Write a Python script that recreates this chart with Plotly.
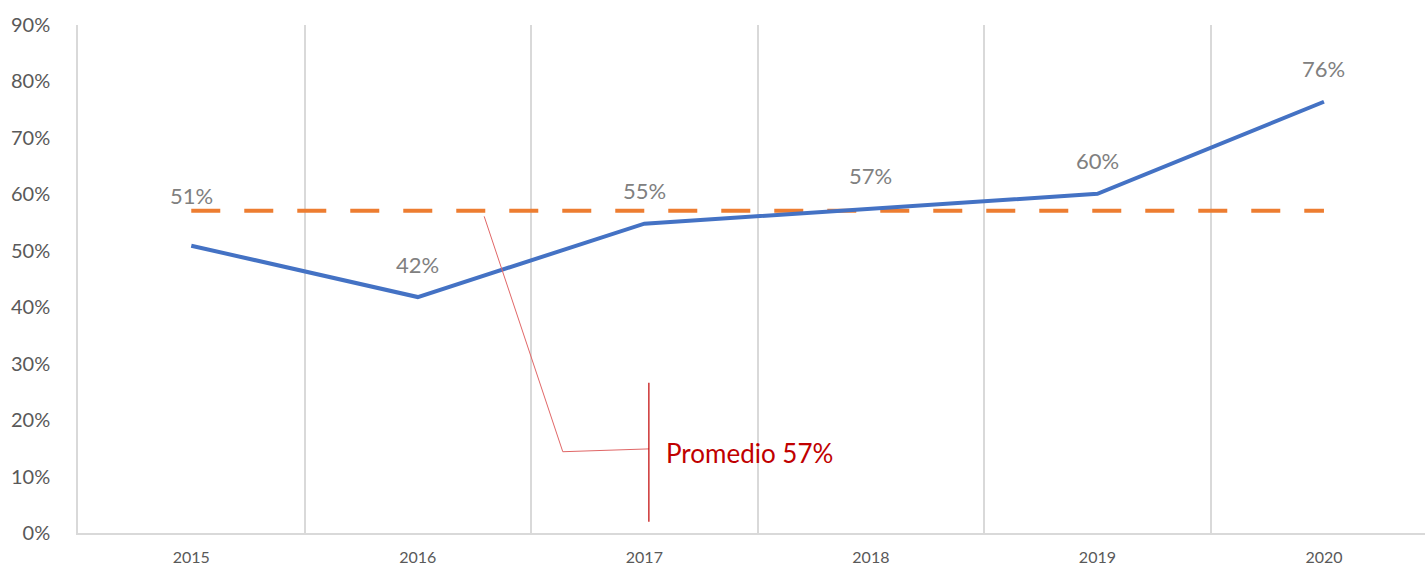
import plotly.graph_objects as go

years = ["2015", "2016", "2017", "2018", "2019", "2020"]
values = [0.509, 0.418, 0.548, 0.575, 0.601, 0.764]
average = 0.571
value_labels = ["51%", "42%", "55%", "57%", "60%", "76%"]
y_ticks = [0, 0.1, 0.2, 0.3, 0.4, 0.5, 0.6, 0.7, 0.8, 0.9]
y_tick_labels = ["0%", "10%", "20%", "30%", "40%", "50%", "60%", "70%", "80%", "90%"]
callout_text = "Promedio 57%"

FONT = "Lato"
GRAY = "#595959"
LABEL_GRAY = "#808080"
RED = "#c00000"

x = list(range(len(years)))

fig = go.Figure()

fig.add_trace(go.Scatter(
    x=x, y=[average] * len(years), mode="lines",
    line=dict(color="#ed7d31", width=4, dash="29px,24px"),
    hoverinfo="skip", showlegend=False,
))
fig.add_trace(go.Scatter(
    x=x, y=values, mode="lines",
    line=dict(color="#4472c4", width=4),
    showlegend=False,
))

# data labels (first one sits higher, above the average line)
label_shift = {0: 50}
for i, (v, t) in enumerate(zip(values, value_labels)):
    fig.add_annotation(
        x=i, y=v, text=t, showarrow=False,
        yshift=label_shift.get(i, 33),
        font=dict(family=FONT, size=22, color=LABEL_GRAY),
    )

# callout for the average
fig.add_shape(type="line", xref="x", yref="y",
              x0=1.293, y0=average - 0.01, x1=1.64, y1=0.144,
              line=dict(color="#e06666", width=1))
fig.add_shape(type="line", xref="x", yref="y",
              x0=1.64, y0=0.144, x1=2.02, y1=0.149,
              line=dict(color="#e06666", width=1))
fig.add_shape(type="line", xref="x", yref="y",
              x0=2.02, y0=0.266, x1=2.02, y1=0.02,
              line=dict(color=RED, width=1.2))
fig.add_annotation(
    x=2.085, y=0.141, text=callout_text, showarrow=False,
    xanchor="left", yanchor="middle",
    font=dict(family=FONT, size=26, color=RED),
)

fig.update_layout(
    width=1427, height=567,
    margin=dict(l=78, r=2, t=25, b=34, autoexpand=False),
    paper_bgcolor="white", plot_bgcolor="white",
    font=dict(family=FONT, color=GRAY),
)
fig.update_xaxes(
    range=[-0.5, 5.446], automargin=False,
    tickvals=x, ticktext=years,
    tickfont=dict(family=FONT, size=16, color=GRAY),
    showgrid=False, zeroline=False,
    showline=True, linecolor="#d9d9d9", linewidth=2,
    ticks="", ticklabelstandoff=9,
    minor=dict(tickvals=[0.5, 1.5, 2.5, 3.5, 4.5], showgrid=True,
               gridcolor="#d9d9d9", gridwidth=1.5, ticks=""),
)
fig.update_yaxes(
    range=[0, 0.9], automargin=False,
    tickvals=y_ticks, ticktext=y_tick_labels,
    tickfont=dict(family=FONT, size=20, color=GRAY),
    showgrid=False, zeroline=False,
    showline=True, linecolor="#d9d9d9", linewidth=1.5,
    ticks="", ticklabelstandoff=22,
)

fig.write_html(
    "out.html",
    config={"displayModeBar": False},
    post_script="document.body.style.margin='0';document.body.style.overflow='hidden';",
)
